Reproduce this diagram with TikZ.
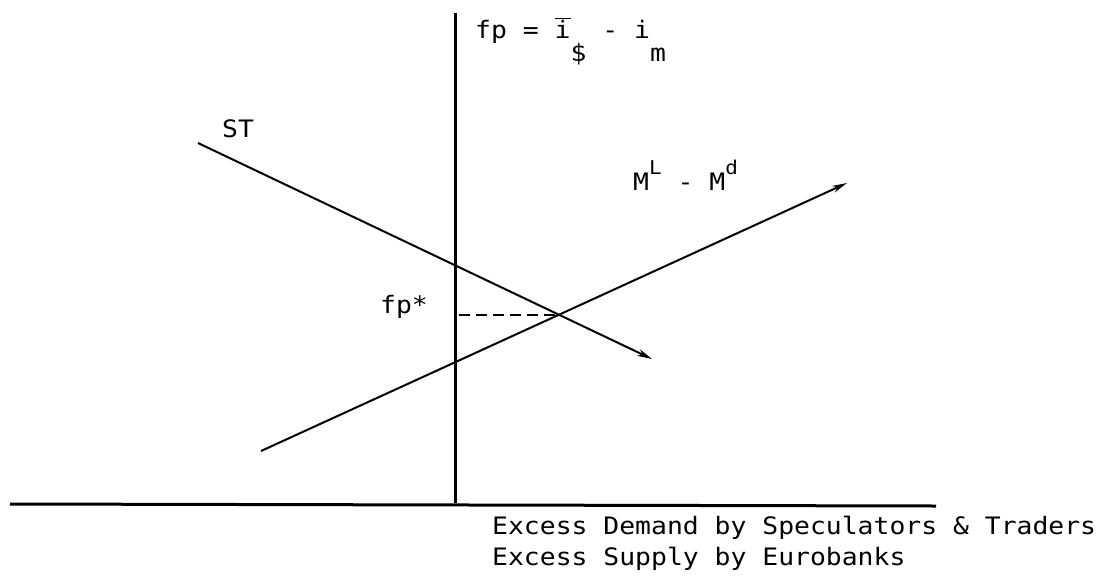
\documentclass[tikz,border=0pt]{standalone}
\usepackage{fontspec}
\newfontfamily\typewr[FakeStretch=1.1]{DejaVu Sans Mono}
\usetikzlibrary{arrows.meta}

\begin{document}
\begin{tikzpicture}[x=1pt,y=-1pt]
\tikzstyle{every node}=[inner sep=0pt,anchor=base west,font=\typewr\fontsize{24}{24}\selectfont]
\tikzstyle{axis}=[line width=3pt]
\tikzstyle{curve}=[line width=2pt,-{Stealth[length=15pt,width=7pt]}]
\useasboundingbox (0,0) rectangle (1105,576);
% axes
\coordinate (ytop) at (455,13);
\coordinate (ybot) at (455,503);
\coordinate (xleft) at (10,504);
\coordinate (xright) at (936,506);
\draw[axis] (ytop) -- (ybot);
\draw[axis] (xleft) -- (xright);
% the two schedules
\coordinate (st0) at (198,143);
\coordinate (st1) at (652,359);
\coordinate (ml0) at (261,451);
\coordinate (ml1) at (847,183);
\coordinate (eq) at (559,315);
\draw[curve] (st0) -- (st1);
\draw[curve] (ml0) -- (ml1);
\draw[line width=1.5pt,dash pattern=on 11pt off 6pt,shorten <=4pt] (eq -| ytop) -- (eq);
% labels
\node (fpeq) at (475,38) {fp = $\overline{\mbox{i}}$\raisebox{-23pt}{\$} - i\raisebox{-23pt}{m}};
\node (stlbl) at (222,137) {ST};
\node (fpstar) at (380,313) {fp*};
\node (mlbl) at (633,190) {M\raisebox{16pt}{\fontsize{19}{19}\selectfont L} - M\raisebox{16pt}{\fontsize{19}{19}\selectfont d}};
\node (demlbl) at (492,534) {Excess Demand by Speculators \& Traders};
\node (suplbl) at (492,565) {Excess Supply by Eurobanks};
\end{tikzpicture}
\end{document}
